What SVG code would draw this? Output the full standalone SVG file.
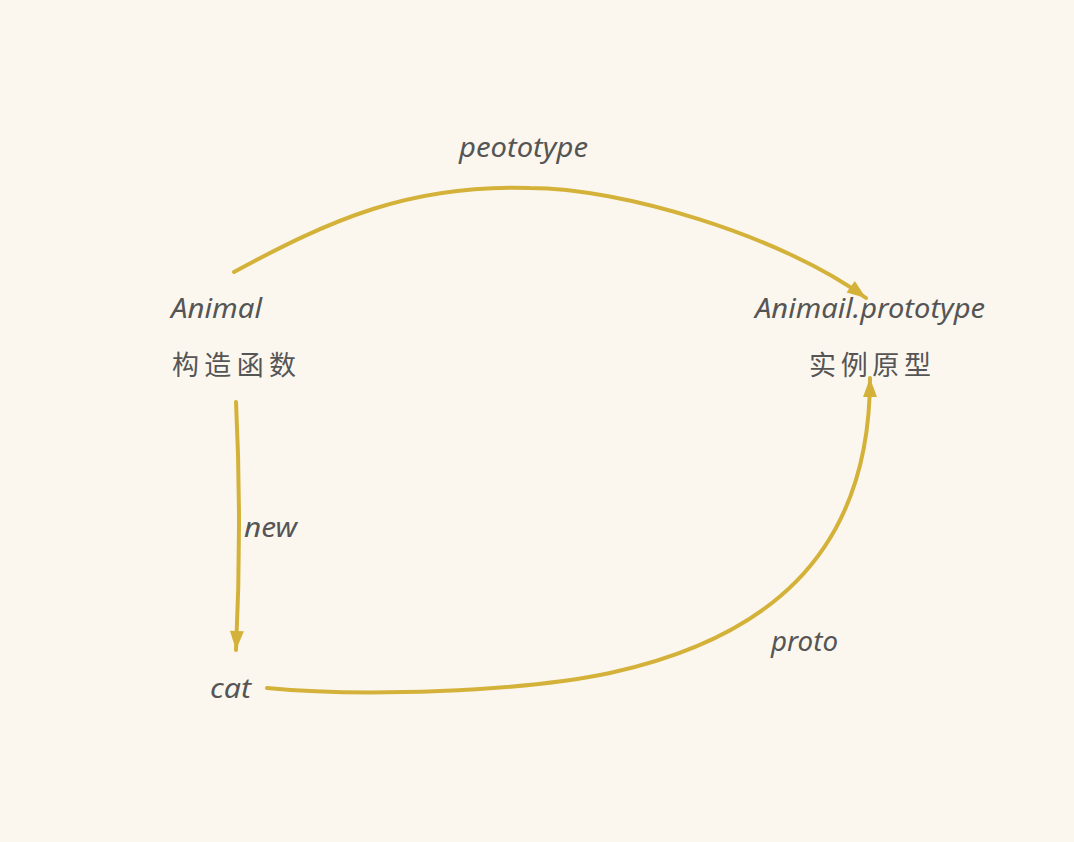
<svg xmlns="http://www.w3.org/2000/svg" width="1074" height="842" viewBox="0 0 1074 842">
<defs>
<style>
.t{font-family:"Noto Sans","Liberation Sans",sans-serif;font-style:italic;font-size:28px;fill:#555555;}
.c{font-family:"Noto Sans CJK SC",sans-serif;font-size:27px;fill:#555555;}
.e{fill:none;stroke:#d4b23a;stroke-width:4;stroke-linecap:round;}
</style>
<marker id="ah" markerUnits="userSpaceOnUse" markerWidth="24" markerHeight="24" viewBox="0 0 24 24" refX="20" refY="12" orient="auto">
<path d="M1,5 L20,12 L1,19 Z" fill="#d4b23a"/>
</marker>
</defs>
<rect width="1074" height="842" fill="#fbf7ef"/>
<g id="connectors">
<path id="e-prototype" class="e" d="M234,272 C330,220 410,184 530,188 C620,188 780,235 866,298" marker-end="url(#ah)"/>
<path id="e-new" class="e" d="M236,402 Q242,525 236,650" marker-end="url(#ah)"/>
<path id="e-proto" class="e" d="M267,688 C360,697 520,692 610,673 C760,640 870,560 870,378" marker-end="url(#ah)"/>
</g>
<g id="node-animal">
<text class="t" x="171" y="318" textLength="91" lengthAdjust="spacingAndGlyphs">Animal</text>
<text class="c" x="172" y="375" textLength="124" lengthAdjust="spacing">构造函数</text>
</g>
<g id="node-prototype">
<text class="t" x="755" y="318" textLength="230" lengthAdjust="spacingAndGlyphs">Animail.prototype</text>
<text class="c" x="809" y="375" textLength="122" lengthAdjust="spacing">实例原型</text>
</g>
<g id="node-cat">
<text class="t" x="210" y="698" textLength="41" lengthAdjust="spacingAndGlyphs">cat</text>
</g>
<g id="labels">
<text class="t" x="459" y="157" textLength="129" lengthAdjust="spacingAndGlyphs">peototype</text>
<text class="t" x="244" y="537" textLength="53" lengthAdjust="spacingAndGlyphs">new</text>
<text class="t" x="771" y="651" textLength="67" lengthAdjust="spacingAndGlyphs">proto</text>
</g>
</svg>
